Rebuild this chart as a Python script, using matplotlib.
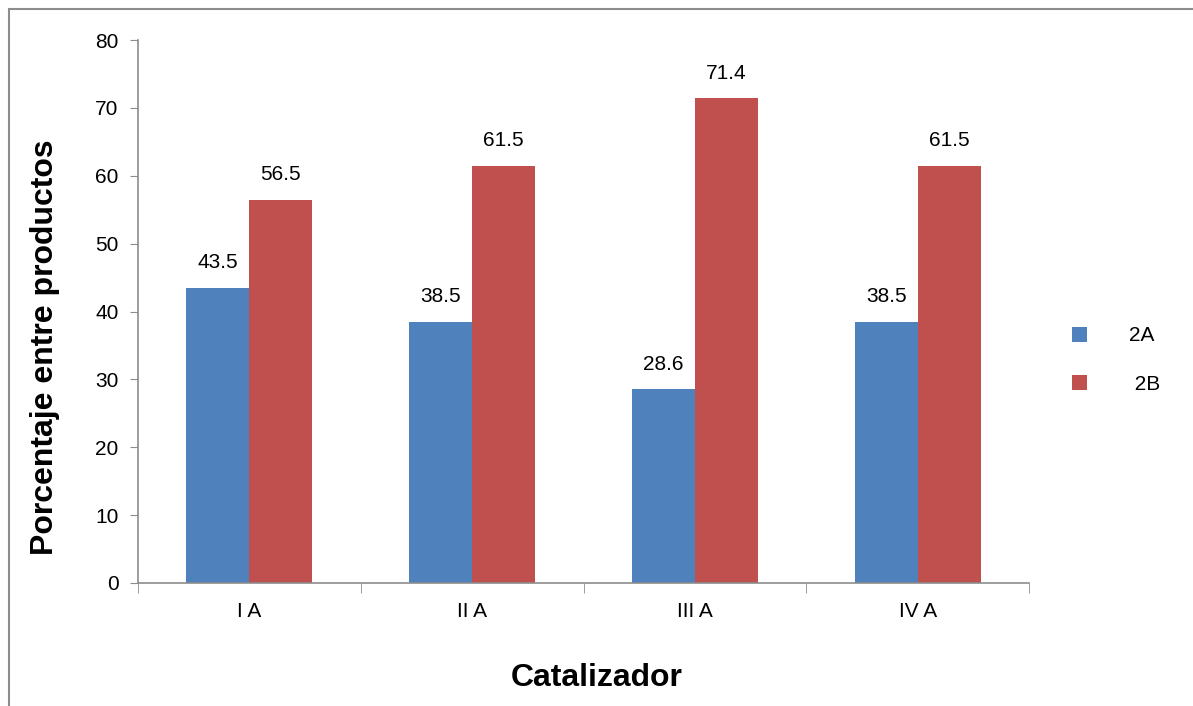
import matplotlib.pyplot as plt
import numpy as np
from matplotlib.patches import Rectangle

categories = ['I A', 'II A', 'III A', 'IV A']
serie_2a = [43.5, 38.5, 28.6, 38.5]
serie_2b = [56.5, 61.5, 71.4, 61.5]

plt.rcParams['font.family'] = ['Liberation Sans', 'DejaVu Sans']

fig = plt.figure(figsize=(11.93, 7.06), dpi=100)
ax = fig.add_axes([138 / 1193, 1 - 583 / 706, (1029 - 138) / 1193, (583 - 40) / 706])

# marco gris (solo se ven los bordes superior e izquierdo)
fig.patches.append(Rectangle((9 / 1193, -0.1), 1.2, 1 - 9 / 706 + 0.1,
                             transform=fig.transFigure, fill=False,
                             edgecolor='#8c8c8c', linewidth=1.5))

x = np.arange(len(categories))
w = 0.283
b1 = ax.bar(x - w / 2, serie_2a, w, color='#4f81bd', label='2A')
b2 = ax.bar(x + w / 2, serie_2b, w, color='#c0504d', label=' 2B')
ax.bar_label(b1, fmt='%.1f', padding=11, fontsize=15)
ax.bar_label(b2, fmt='%.1f', padding=11, fontsize=15)

ax.set_xlim(-0.5, len(categories) - 0.5)
ax.set_ylim(0, 80)
ax.set_yticks(range(0, 81, 10))
ax.set_xticks(x)
ax.set_xticklabels(categories)
ax.set_xticks(np.arange(-0.5, len(categories), 1), minor=True)
ax.tick_params(axis='x', which='major', length=0, pad=14, labelsize=15)
ax.tick_params(axis='x', which='minor', length=7, color='#8c8c8c', direction='out')
ax.tick_params(axis='y', length=6, color='#8c8c8c', labelsize=15, pad=8)

for s in ['top', 'right']:
    ax.spines[s].set_visible(False)
for s in ['left', 'bottom']:
    ax.spines[s].set_color('#8c8c8c')
    ax.spines[s].set_linewidth(1.2)

ax.set_xlabel('Catalizador', fontsize=23, fontweight='bold', va='center')
ax.set_ylabel('Porcentaje entre productos', fontsize=23, fontweight='bold', va='center')
ax.xaxis.set_label_coords(0.515, -0.175)
ax.yaxis.set_label_coords(-0.104, 0.435)

fig.legend(handles=[b1, b2], labels=['2A', ' 2B'], loc='center left',
           bbox_to_anchor=(1053 / 1193, 1 - 360 / 706), frameon=False,
           fontsize=15, handlelength=0.75, handleheight=0.75,
           handletextpad=2.0, labelspacing=1.4)

fig.savefig('out.png', dpi=100)
